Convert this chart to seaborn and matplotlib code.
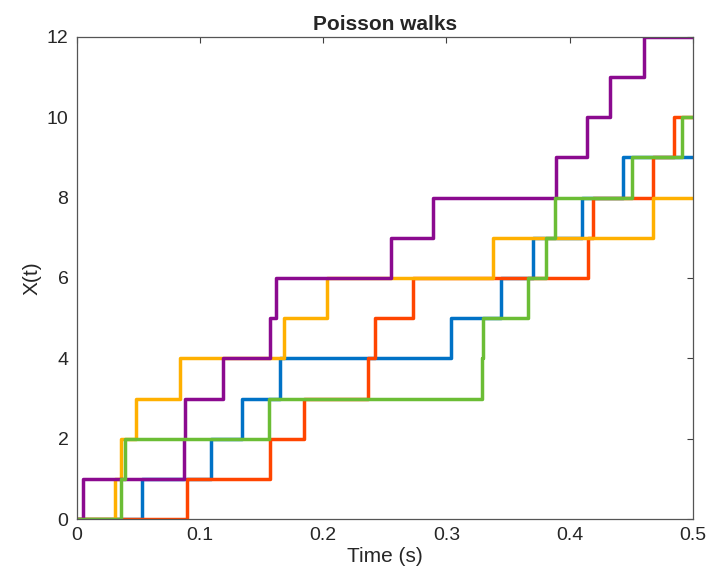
import numpy as np
import pandas as pd
import seaborn as sns
import matplotlib.pyplot as plt

# jump times (s), one list per walk
blue_jumps = [0.0525, 0.109, 0.1337, 0.165, 0.304, 0.344, 0.370, 0.410, 0.4435]
red_jumps = [0.0896, 0.157, 0.184, 0.236, 0.242, 0.273, 0.4148, 0.419, 0.468, 0.485]
yellow_jumps = [0.0308, 0.036, 0.048, 0.0836, 0.168, 0.203, 0.338, 0.468]
purple_jumps = [0.005, 0.087, 0.088, 0.1185, 0.157, 0.1615, 0.2546, 0.289,
                0.3888, 0.4137, 0.4326, 0.460]
green_jumps = [0.0362, 0.039, 0.156, 0.3285, 0.3295, 0.366, 0.381, 0.388,
               0.451, 0.491]

walks = ["blue", "red", "yellow", "purple", "green"]
jump_lists = [blue_jumps, red_jumps, yellow_jumps, purple_jumps, green_jumps]
colors = ["#0072C6", "#FF4500", "#FFB000", "#8B0A8F", "#6BBD35"]
t_end = 0.5

rows = []
for name, jumps in zip(walks, jump_lists):
    times = [0.0] + jumps + [t_end]
    counts = list(range(len(jumps) + 1)) + [len(jumps)]
    for t, x in zip(times, counts):
        rows.append({"t": t, "X": x, "walk": name})
df = pd.DataFrame(rows)

sns.set_style("white")
plt.rcParams["font.family"] = ["Liberation Sans", "DejaVu Sans"]

fig = plt.figure(figsize=(7.18, 5.86), dpi=100)
ax = fig.add_axes([0.107, 0.1143, 0.858, 0.8226])

sns.lineplot(data=df, x="t", y="X", hue="walk", hue_order=walks,
             palette=dict(zip(walks, colors)), drawstyle="steps-post",
             estimator=None, sort=False, units="walk", linewidth=2.5,
             legend=False, ax=ax)

ax.set_xlim(0, 0.5)
ax.set_ylim(0, 12)
ax.set_xticks(np.arange(0, 0.51, 0.1))
ax.set_xticklabels(["0", "0.1", "0.2", "0.3", "0.4", "0.5"])
ax.set_yticks(range(0, 13, 2))
ax.tick_params(direction="in", top=True, right=True, length=4, width=0.8,
               labelsize=14, colors="#404040", labelcolor="#262626", pad=6)
for s in ax.spines.values():
    s.set_color("#555555")
    s.set_linewidth(0.9)
    s.set_visible(True)
ax.set_xlabel("Time (s)", fontsize=15, color="#262626", labelpad=2)
ax.set_ylabel("X(t)", fontsize=15, color="#262626", labelpad=4)
ax.set_title("Poisson walks", fontsize=15, fontweight="bold", pad=5)

fig.savefig("out.png", dpi=100)
